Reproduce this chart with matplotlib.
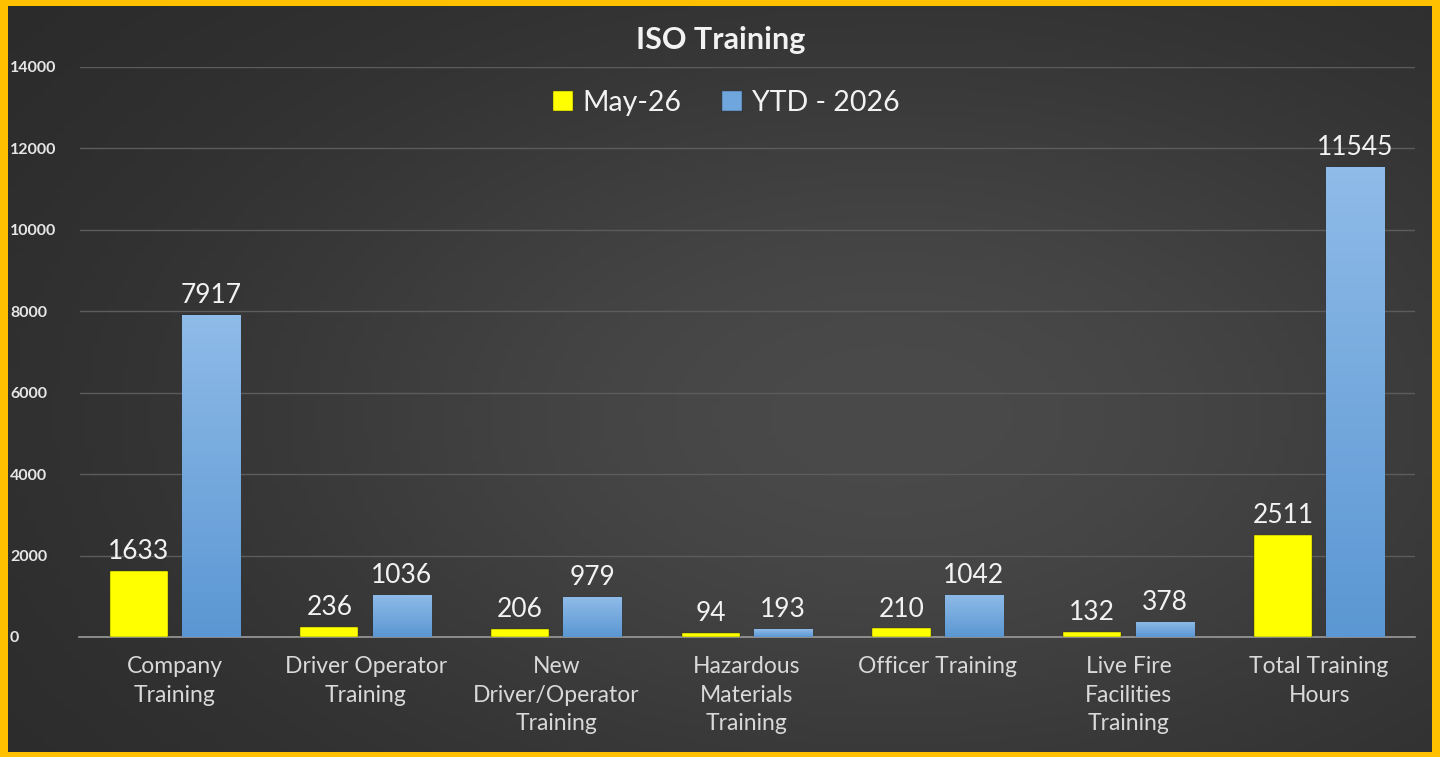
import numpy as np
import matplotlib
matplotlib.use("Agg")
import matplotlib.pyplot as plt

categories = ["Company\nTraining", "Driver Operator\nTraining", "New\nDriver/Operator\nTraining",
              "Hazardous\nMaterials\nTraining", "Officer Training", "Live Fire\nFacilities\nTraining",
              "Total Training\nHours"]
may_values = [1633, 236, 206, 94, 210, 132, 2511]
ytd_values = [7917, 1036, 979, 193, 1042, 378, 11545]
series_names = ["May-26", "YTD - 2026"]
y_ticks = [0, 2000, 4000, 6000, 8000, 10000, 12000, 14000]

plt.rcParams['font.family'] = ['Lato', 'DejaVu Sans']

W, H = 1440, 757
fig = plt.figure(figsize=(W / 100, H / 100), dpi=100)
fig.patch.set_facecolor("#FFC000")

# background gradient panel (inside yellow border)
bg = fig.add_axes([8 / W, 5 / H, (1432 - 8) / W, (751 - 5) / H])
yy, xx = np.mgrid[0:1:200j, 0:1:200j]
grad = 0.16 + 0.13 * np.exp(-((xx - 0.62) ** 2 / 0.25 + (yy - 0.45) ** 2 / 0.3))
bg.imshow(np.dstack([grad, grad, grad]), aspect="auto", extent=[0, 1, 0, 1], origin="lower")
bg.set_axis_off()

# main axes: x 79.5..1414.5, y0 at 637, 14000 at 67
left, right = 79.5, 1414.5
y0px, ytop = 637, 67
ax = fig.add_axes([left / W, (H - y0px) / H, (right - left) / W, (y0px - ytop) / H])
ax.set_facecolor("none")
ax.set_xlim(-0.5, len(categories) - 0.5)
ax.set_ylim(0, 14000)

x = np.arange(len(categories))
bw = 0.305
off = 0.19
b1 = ax.bar(x - off, may_values, bw, color="#FFFF00", label=series_names[0], zorder=3,
            edgecolor="#3a3a00", linewidth=0.3)
b2 = ax.bar(x + off, ytd_values, bw, color="#6FA6DE", label=series_names[1], zorder=3,
            edgecolor="#2a3a4a", linewidth=0.3)

# subtle gradient on blue bars
for r in b2:
    xb, yb, wb, hb = r.get_x(), r.get_y(), r.get_width(), r.get_height()
    g = np.linspace(0, 1, 100).reshape(-1, 1)
    cols = np.zeros((100, 1, 3))
    top = np.array([0x8F, 0xBB, 0xE8]) / 255
    bot = np.array([0x5B, 0x97, 0xD3]) / 255
    cols[:, 0, :] = bot + (top - bot) * g
    im = ax.imshow(cols, extent=[xb, xb + wb, yb, yb + hb], aspect="auto", origin="lower", zorder=3.5)
    im.set_clip_path(r)

for rects, vals in ((b1, may_values), (b2, ytd_values)):
    for r, v in zip(rects, vals):
        ax.annotate(str(v), (r.get_x() + r.get_width() / 2, r.get_height()),
                    xytext=(0, 5), textcoords="offset points", ha="center", va="bottom",
                    fontsize=19, color="#F2F2F2", zorder=5)

ax.set_yticks(y_ticks)
ax.set_yticklabels([str(t) for t in y_ticks], fontsize=11.5, fontweight="bold", color="#E6E6E6")
ax.tick_params(axis="y", length=0, pad=0)
for lbl in ax.get_yticklabels():
    lbl.set_horizontalalignment("left")
    lbl.set_x(-(left - 10) / (right - left))
ax.set_xticks(x)
ax.set_xticklabels(categories, fontsize=16.5, color="#D9D9D9", linespacing=1.42)
ax.tick_params(axis="x", length=0, pad=14)

ax.grid(axis="y", color="#5C5C5C", linewidth=1, zorder=0)
ax.set_axisbelow(True)
for s in ["top", "right", "left"]:
    ax.spines[s].set_visible(False)
ax.spines["bottom"].set_color("#9A9A9A")
ax.spines["bottom"].set_linewidth(1.2)

fig.text(721 / W, 1 - 40 / H, "ISO Training", ha="center", va="center", fontsize=22,
         fontweight="bold", color="#F2F2F2")

leg = ax.legend(loc="center", bbox_to_anchor=(726 / W, 1 - 103 / H), bbox_transform=fig.transFigure,
                ncol=2, frameon=False, fontsize=20.5, handlelength=0.7, handleheight=0.7,
                handletextpad=0.35, columnspacing=1.4)
for t in leg.get_texts():
    t.set_color("#F2F2F2")

fig.savefig("out.png", dpi=100, facecolor=fig.get_facecolor())
